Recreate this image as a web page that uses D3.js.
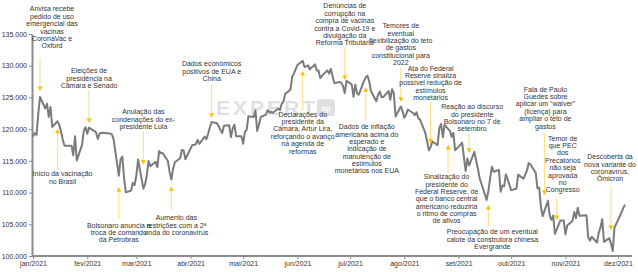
<!DOCTYPE html>
<html>
<head>
<meta charset="utf-8">
<script src="https://cdn.jsdelivr.net/npm/d3@7"></script>
<style>
  body { margin: 0; background: #fff; }
  svg text { font-family: "Liberation Sans Narrow", "Arial Narrow", "Liberation Sans", Arial, sans-serif; }
</style>
</head>
<body>
<div id="chart"></div>
<script>
// Ibovespa, fechamento diario 2021 (pontos)
const dates = [
  "01-04","01-05","01-06","01-07","01-08","01-11","01-12","01-13","01-14","01-15",
  "01-18","01-19","01-20","01-21","01-22","01-26","01-27","01-28","01-29",
  "02-01","02-02","02-03","02-04","02-05","02-08","02-09","02-10","02-11","02-12",
  "02-17","02-18","02-19","02-22","02-23","02-24","02-25","02-26",
  "03-01","03-02","03-03","03-04","03-05","03-08","03-09","03-10","03-11","03-12",
  "03-15","03-16","03-17","03-18","03-19","03-22","03-23","03-24","03-25","03-26",
  "03-29","03-30","03-31",
  "04-01","04-05","04-06","04-07","04-08","04-09","04-12","04-13","04-14","04-15",
  "04-16","04-19","04-20","04-22","04-23","04-26","04-27","04-28","04-29","04-30",
  "05-03","05-04","05-05","05-06","05-07","05-10","05-11","05-12","05-13","05-14",
  "05-17","05-18","05-19","05-20","05-21","05-24","05-25","05-26","05-27","05-28","05-31",
  "06-01","06-02","06-04","06-07","06-08","06-09","06-10","06-11","06-14","06-15",
  "06-16","06-17","06-18","06-21","06-22","06-23","06-24","06-25","06-28","06-29","06-30",
  "07-01","07-02","07-05","07-06","07-07","07-08","07-09","07-12","07-13","07-14",
  "07-15","07-16","07-19","07-20","07-21","07-22","07-23","07-26","07-27","07-28","07-29","07-30",
  "08-02","08-03","08-04","08-05","08-06","08-09","08-10","08-11","08-12","08-13",
  "08-16","08-17","08-18","08-19","08-20","08-23","08-24","08-25","08-26","08-27","08-30","08-31",
  "09-01","09-02","09-03","09-06","09-08","09-09","09-10","09-13","09-14","09-15",
  "09-16","09-17","09-20","09-21","09-22","09-23","09-24","09-27","09-28","09-29","09-30",
  "10-01","10-04","10-05","10-06","10-07","10-08","10-11","10-13","10-14","10-15",
  "10-18","10-19","10-20","10-21","10-22","10-25","10-26","10-27","10-28","10-29",
  "11-01","11-03","11-04","11-05","11-08","11-09","11-10","11-11","11-12","11-16",
  "11-17","11-18","11-19","11-22","11-23","11-24","11-25","11-26","11-29","11-30",
  "12-01","12-02","12-03","12-06","12-07","12-08"
];
const closes = [
  118854,119376,119100,122386,125077,123255,123998,121933,123480,120349,
  121241,120636,119646,118329,117380,117381,115882,118883,115068,
  117518,119724,120311,119261,120240,119696,119472,118435,119300,119429,
  119299,119198,118430,112668,115227,115668,112256,110035,
  110335,111540,111184,112690,115202,110612,111331,112776,114983,114160,
  114851,114018,116549,116221,116222,114979,113262,112064,113750,114781,
  115419,116727,116634,
  115253,117518,117499,117624,118313,117670,118812,118420,119297,120294,
  121114,120934,120452,119371,120530,120595,118740,120066,120700,118893,
  118890,117712,119564,119921,122038,121909,122964,119710,120706,121881,
  122300,122980,122636,122701,122592,123255,122988,123989,124366,125561,126216,
  128267,128780,130125,130776,129787,129906,130076,129441,130208,129261,
  129259,128057,128405,129265,128767,129513,128427,127256,127429,127327,126802,
  125666,127622,127019,125095,127018,125666,125428,127594,128168,128406,
  127468,125960,124395,125401,125929,125053,125052,126004,124612,126285,125675,122000,
  123577,122800,121800,122300,123100,122550,122200,122650,121700,121500,
  119400,118100,116643,117165,118053,117472,120211,120818,118724,120677,119740,118781,
  119396,116677,116933,117868,113413,115361,114286,116404,115063,113794,
  112282,111439,108844,110249,112282,114064,113283,113583,110124,111107,110979,
  112900,110393,110458,110560,110585,112833,112180,113456,114648,114428,
  113135,110673,110786,107735,106296,108714,106420,105705,106363,103501,
  105551,105617,103412,104824,105535,106925,105967,107595,106335,106420,
  102948,102426,103035,102122,103653,104514,105811,102224,102814,101915,
  100774,104466,105070,106859,107558,108096
];

const yTicks = [100000, 105000, 110000, 115000, 120000, 125000, 130000, 135000];
const monthLabels = ["jan/2021","fev/2021","mar/2021","abr/2021","mai/2021","jun/2021",
                     "jul/2021","ago/2021","set/2021","out/2021","nov/2021","dez/2021"];

// eventos: data, nivel da ponta da seta, nivel do inicio da seta, texto
const events = [
  { date: "01-08", tip: 126013, tail: 131215, lines: ["Anvisa recebe","pedido de uso","emergencial das","vacinas","CoronaVac e","Oxford"] },
  { date: "01-18", tip: 120022, tail: 113558, lines: ["Início da vacinação","no Brasil"] },
  { date: "02-05", tip: 120968, tail: 126170, lines: ["Eleições de","presidência na","Câmara e Senado"] },
  { date: "03-08", tip: 114425, tail: 119600, lines: ["Anulação das","condenações do ex-","presidente Lula"] },
  { date: "02-22", tip: 110830, tail: 105833, lines: ["Bolsonaro anuncia a","troca de comando","da Petrobras"] },
  { date: "03-24", tip: 110957, tail: 107331, lines: ["Aumento das","restrições com a 2ª","onda do coronavírus"] },
  { date: "04-16", tip: 121804, tail: 127069, lines: ["Dados econômicos","positivos de EUA e","China"] },
  { date: "06-07", tip: 129166, tail: 123017, lines: ["Declarações do","presidente da","Câmara, Artur Lira,","reforçando o avanço","na agenda de","reformas"] },
  { date: "07-01", tip: 127747, tail: 132793, lines: ["Denúncias de","corrupção na","compra de vacinas","contra a Covid-19 e","divulgação da","Reforma Tributária"] },
  { date: "07-13", tip: 126597, tail: 121441, lines: ["Dados de inflação","americana acima do","esperado e","indicação de","manutenção de","estímulos","monetários nos EUA"] },
  { date: "08-02", tip: 124327, tail: 129640, lines: ["Temores de","eventual","flexibilização do teto","de gastos","constitucional para","2022"] },
  { date: "08-19", tip: 117768, tail: 124327, lines: ["Ata do Federal","Reserve sinaliza","possível redução de","estímulos","monetários"] },
  { date: "09-10", tip: 116285, tail: 119400, lines: ["Reação ao discurso","do presidente","Bolsonaro no 7 de","setembro"] },
  { date: "08-29", tip: 117500, tail: 113243, lines: ["Sinalização do","presidente do","Federal Reserve, de","que o banco central","americano reduziria","o ritmo de compras","de ativos"] },
  { date: "09-21", tip: 108040, tail: 104619, lines: ["Preocupação de um eventual","calote da construtora chinesa","Evergrande"] },
  { date: "10-23", tip: 109617, tail: 119400, lines: ["Fala de Paulo","Guedes sobre","aplicar um \u201cwaiver\u201d","(licença) para","ampliar o teto de","gastos"] },
  { date: "10-30", tip: 105676, tail: 109097, lines: ["Temor de","que PEC","dos","Precatórios","não seja","aprovada","no","Congresso"] },
  { date: "11-30", tip: 104099, tail: 110925, lines: ["Descoberta da","nova variante do","coronavírus,","Ômicron"] }
];
// posicao do texto de cada evento: deslocamento horizontal e y da primeira linha
const eventText = [
  [12, 9], [5, 174], [0, 71], [0, 111.7], [0, 225.3], [5, 217.7], [0, 64], [0, 114.3],
  [0, 6], [1, 126.7], [0, 25.7], [0, 68.3], [3, 106.7], [-1.5, 176.7], [4, 231.7],
  [1, 89.3], [6, 138.3], [-1, 156.7]
];

const W = 638, H = 272;
const parse = d3.timeParse("%Y-%m-%d");
const data = dates.map((d, i) => ({ date: parse("2021-" + d), value: closes[i] }));

const br = d3.formatLocale({ decimal: ",", thousands: ".", grouping: [3], currency: ["R$", ""] });
const fmt = br.format(",.0f");

const svg = d3.select("#chart").append("svg").attr("width", W).attr("height", H);

// escala: eixo comeca em 04/jan, marcas mensais no dia 4
const x = d3.scaleTime()
  .domain([parse("2021-01-04"), parse("2021-12-04")])
  .range([33, 618]);
const y = d3.scaleLinear().domain([100000, 135000]).range([256, 34]);

const axisColor = "#8c8c8c";

// eixo x
const xAxis = svg.append("g")
  .attr("transform", "translate(0,256)")
  .call(d3.axisBottom(x)
    .tickValues(monthLabels.map((m, i) => new Date(2021, i, 4)))
    .tickFormat((d, i) => monthLabels[i])
    .tickSize(3).tickSizeOuter(0).tickPadding(2));
xAxis.select(".domain").remove();
xAxis.append("line")
  .attr("x1", 32).attr("x2", x(parse("2021-12-12"))).attr("y1", 0).attr("y2", 0)
  .attr("stroke", axisColor).attr("stroke-width", 2);
xAxis.selectAll(".tick line").attr("stroke", axisColor);
xAxis.selectAll(".tick text").attr("fill", "#333").attr("font-size", 7);

// eixo y
const yAxis = svg.append("g")
  .attr("transform", "translate(32,0)")
  .call(d3.axisLeft(y).tickValues(yTicks).tickFormat(fmt).tickSize(3).tickSizeOuter(0).tickPadding(2));
yAxis.select(".domain").attr("stroke", axisColor).attr("stroke-width", 2);
yAxis.selectAll(".tick line").attr("stroke", axisColor);
yAxis.selectAll(".tick text").attr("fill", "#333").attr("font-size", 7);

// marca d'agua
const wm = svg.append("g").attr("opacity", 0.55);
wm.append("text")
  .attr("x", 267).attr("y", 115)
  .attr("text-anchor", "middle")
  .attr("font-size", 21).attr("font-weight", "bold")
  .attr("letter-spacing", 3)
  .attr("fill", "#c8c8c8")
  .style("font-family", "'Liberation Sans', Arial, sans-serif")
  .text("EXPERT");
wm.append("rect")
  .attr("x", 317).attr("y", 99).attr("width", 18).attr("height", 17).attr("rx", 3)
  .attr("fill", "#c8c8c8");
wm.append("text")
  .attr("x", 326).attr("y", 111).attr("text-anchor", "middle")
  .attr("font-size", 8).attr("font-weight", "bold").attr("fill", "#fff")
  .style("font-family", "'Liberation Sans', Arial, sans-serif")
  .text("xp");

// linha do indice
const line = d3.line().x(d => x(d.date)).y(d => y(d.value));
svg.append("path")
  .datum(data)
  .attr("fill", "none")
  .attr("stroke", "#7b7b7b")
  .attr("stroke-width", 2)
  .attr("stroke-linejoin", "round")
  .attr("d", line);

// setas e textos
const ann = svg.append("g");
events.forEach((e, i) => {
  const ax = x(parse("2021-" + e.date));
  const yTip = y(e.tip), yTail = y(e.tail);
  const dir = yTip > yTail ? 1 : -1; // 1 = seta para baixo
  ann.append("line")
    .attr("x1", ax).attr("x2", ax)
    .attr("y1", yTail).attr("y2", yTip - dir * 4)
    .attr("stroke", "#ffe08a").attr("stroke-width", 1.2);
  ann.append("path")
    .attr("d", `M${ax - 2.5},${yTip - dir * 4.5}L${ax + 2.5},${yTip - dir * 4.5}L${ax},${yTip}Z`)
    .attr("fill", "#ffc000");

  const [dx, ty] = eventText[i];
  const t = ann.append("text")
    .attr("x", ax + dx).attr("y", ty)
    .attr("text-anchor", "middle")
    .attr("font-size", 7)
    .attr("fill", "#333");
  e.lines.forEach((l, j) => {
    t.append("tspan").attr("x", ax + dx).attr("y", ty + j * 7.35).attr("dy", "0.35em").text(l);
  });
});
</script>
</body>
</html>
